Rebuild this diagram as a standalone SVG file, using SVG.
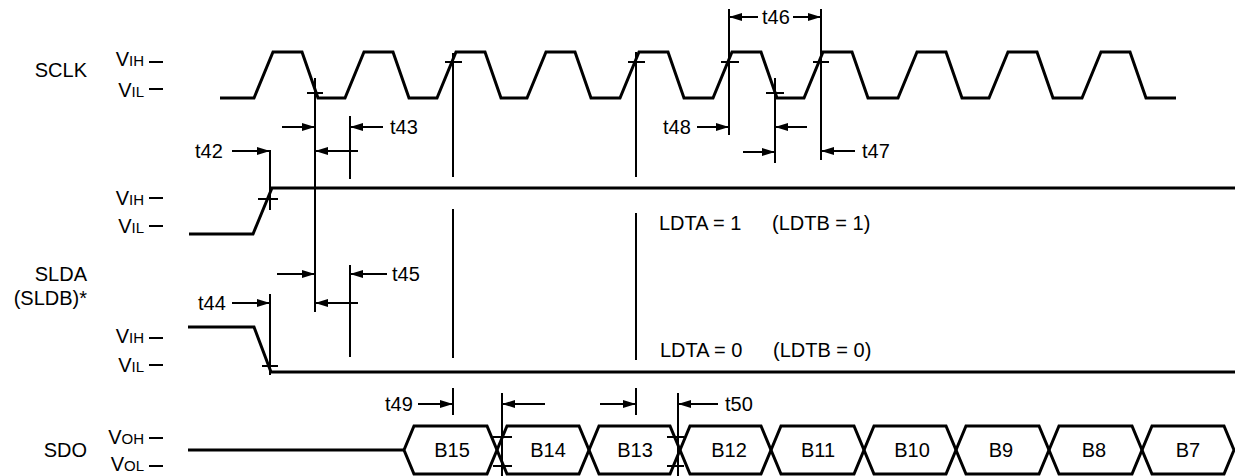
<svg xmlns="http://www.w3.org/2000/svg" width="1235" height="476" viewBox="0 0 1235 476">
<defs>
<marker id="ah" markerUnits="userSpaceOnUse" markerWidth="14" markerHeight="9" refX="13" refY="4" orient="auto">
<path d="M0,0 L13,4 L0,8 z" fill="#000"/>
</marker>
<style>
.w{fill:none;stroke:#000;stroke-width:3;stroke-linejoin:miter}
.l{fill:none;stroke:#000;stroke-width:2}
.a{fill:none;stroke:#000;stroke-width:2;marker-end:url(#ah)}
.t{font-family:"Liberation Sans",Arial,sans-serif;font-size:20px;fill:#000}
.v{font-family:"Liberation Sans",Arial,sans-serif;font-size:20px;fill:#000;text-anchor:end}
.s{font-size:15px}
.e{text-anchor:end}
.m{text-anchor:middle}
</style>
</defs>
<rect width="1235" height="476" fill="#fff"/>

<g id="labels">
<text class="t e" x="87" y="77">SCLK</text>
<text class="t e" x="87" y="281">SLDA</text>
<text class="t e" x="87" y="305">(SLDB)*</text>
<text class="t e" x="87" y="457">SDO</text>
<text class="v" x="144" y="66">V<tspan class="s">IH</tspan></text>
<text class="v" x="144" y="97">V<tspan class="s">IL</tspan></text>
<text class="v" x="144" y="205">V<tspan class="s">IH</tspan></text>
<text class="v" x="144" y="233">V<tspan class="s">IL</tspan></text>
<text class="v" x="144" y="343">V<tspan class="s">IH</tspan></text>
<text class="v" x="144" y="372">V<tspan class="s">IL</tspan></text>
<text class="v" x="144" y="444">V<tspan class="s">OH</tspan></text>
<text class="v" x="144" y="471">V<tspan class="s">OL</tspan></text>
<path class="l" d="M149,62H163M149,89H163M149,198H163M149,226H163M149,338H163M149,365H163M149,438H163M149,466H163"/>
</g>

<g id="sclk">
<path class="w" d="M220,98 H254 L273,52 H302 L318,98 H345 L364,52 H393 L409,98 H437 L456,52 H485 L501,98 H527 L546,52 H575 L591,98 H620 L639,52 H668 L684,98 H713 L732,52 H761 L777,98 H804 L823,52 H852 L868,98 H898 L917,52 H946 L962,98 H989 L1008,52 H1037 L1053,98 H1082 L1101,52 H1130 L1146,98 H1176"/>
</g>

<g id="slda-high">
<path class="w" d="M189,234 H253 L272,188 H1235"/>
<text class="t" x="659" y="230">LDTA = 1<tspan x="772">(LDTB = 1)</tspan></text>
</g>

<g id="slda-low">
<path class="w" d="M188,327 H254 L271,372 H1235"/>
<text class="t" x="660" y="357">LDTA = 0<tspan x="773">(LDTB = 0)</tspan></text>
</g>

<g id="sdo">
<path class="w" d="M188,450 H404"/>
<path class="w" d="M404,450 L414,426 H487 L497,450 L487,474 H414 Z"/>
<path class="w" d="M497,450 L507,426 H579 L589,450 L579,474 H507 Z"/>
<path class="w" d="M589,450 L599,426 H670 L680,450 L670,474 H599 Z"/>
<path class="w" d="M680,450 L690,426 H761 L771,450 L761,474 H690 Z"/>
<path class="w" d="M771,450 L781,426 H854 L864,450 L854,474 H781 Z"/>
<path class="w" d="M864,450 L874,426 H946 L956,450 L946,474 H874 Z"/>
<path class="w" d="M956,450 L966,426 H1039 L1049,450 L1039,474 H966 Z"/>
<path class="w" d="M1049,450 L1059,426 H1132 L1142,450 L1132,474 H1059 Z"/>
<path class="w" d="M1142,450 L1152,426 H1224 L1234,450 L1224,474 H1152 Z"/>
<text class="t m" x="452" y="457">B15</text>
<text class="t m" x="548" y="457">B14</text>
<text class="t m" x="635" y="457">B13</text>
<text class="t m" x="729" y="457">B12</text>
<text class="t m" x="818" y="457">B11</text>
<text class="t m" x="912" y="457">B10</text>
<text class="t m" x="1001" y="457">B9</text>
<text class="t m" x="1094" y="457">B8</text>
<text class="t m" x="1188" y="457">B7</text>
</g>

<g id="connectors">
<path class="l" d="M315,78V312M270,150V210M350,116V179M350,265V357M270,294V375"/>
<path class="l" d="M453,53V177M453,209V358M453,388V415M636,52V177M636,213V360M636,388V415"/>
<path class="l" d="M729,9V135M821,9V160M775,78V163M502,393V476M678,393V476"/>
<path class="l" d="M307,93H323M445,62H462M628,62H645M721,62H739M813,62H829M766,93H784M258,199H278M262,366H278"/>
<path class="l" d="M493,437H512M493,466H512M667,437H684M667,466H684"/>
<path class="a" d="M282,127H315"/>
<path class="a" d="M383,127H350"/>
<path class="a" d="M232,151H270"/>
<path class="a" d="M358,151H315"/>
<path class="a" d="M277,274H315"/>
<path class="a" d="M387,274H350"/>
<path class="a" d="M232,303H270"/>
<path class="a" d="M358,303H315"/>
<path class="a" d="M758,17H729"/>
<path class="a" d="M793,17H821"/>
<path class="a" d="M697,127H729"/>
<path class="a" d="M807,127H775"/>
<path class="a" d="M743,152H775"/>
<path class="a" d="M855,151H821"/>
<path class="a" d="M418,404H453"/>
<path class="a" d="M545,404H502"/>
<path class="a" d="M600,404H636"/>
<path class="a" d="M718,404H678"/>
<text class="t" x="390" y="134">t43</text>
<text class="t" x="195" y="158">t42</text>
<text class="t" x="392" y="281">t45</text>
<text class="t" x="198" y="310">t44</text>
<text class="t" x="762" y="24">t46</text>
<text class="t" x="663" y="134">t48</text>
<text class="t" x="862" y="158">t47</text>
<text class="t" x="385" y="411">t49</text>
<text class="t" x="725" y="411">t50</text>
</g>
</svg>
